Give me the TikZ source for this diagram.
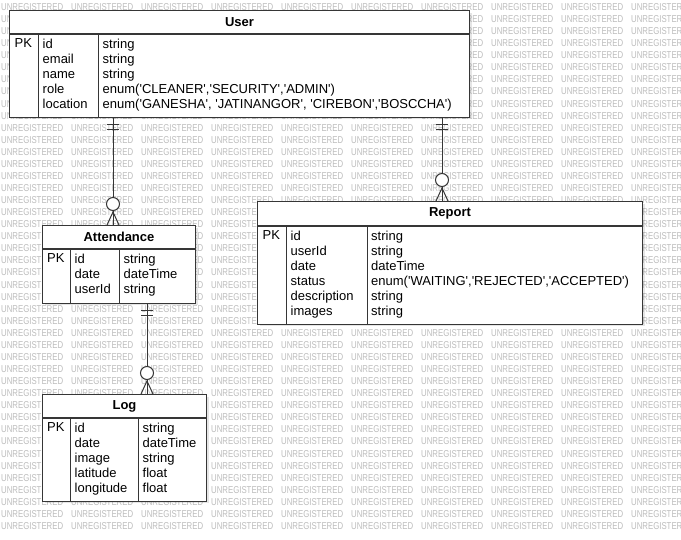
\documentclass[tikz,border=0pt]{standalone}
\usepackage{fontspec}
\setmainfont[Ligatures=TeXOff]{Liberation Sans}
\newfontfamily\wmfont[FakeStretch=0.78]{Liberation Sans}
\definecolor{edge}{HTML}{363636}

\tikzset{
  wm/.style={font=\wmfont\fontsize{10}{10}\selectfont, text=black!26, inner sep=0pt, anchor=west},
  hdr/.style={draw=edge, fill=white, line width=1pt, anchor=north west, inner sep=0pt,
    font=\fontsize{13}{15}\selectfont\bfseries},
  body/.style={draw=edge, fill=white, line width=1pt, anchor=north west, inner sep=0pt},
  cell/.style={align=left, anchor=north west, inner sep=0pt},
  rel/.style={draw=edge, line width=1pt},
  shade/.style={fill=black, opacity=0.1}
}

\begin{document}
\begin{tikzpicture}[x=1pt, y=-1pt, font=\fontsize{13}{15}\selectfont]
    \useasboundingbox[fill=white] (0,0) rectangle (681,540);

    % Watermark (words that the tables hide are left out)
    \foreach \r in {0,...,43}
      \foreach \c in {0,...,9} {
        \pgfmathsetmacro\wx{\c*70+1}
        \pgfmathsetmacro\wy{7+\r*12.07}
        \pgfmathtruncatemacro\hid{
          (\wx>=9 && \wx+63<=469 && \wy>=13 && \wy<=113) ||
          (\wx>=42 && \wx+63<=195 && \wy>=228 && \wy<=299) ||
          (\wx>=257 && \wx+63<=642 && \wy>=204 && \wy<=320) ||
          (\wx>=42 && \wx+63<=206 && \wy>=397 && \wy<=497)}
        \ifnum\hid=0
          \node[wm] (wm-\r-\c) at (\wx,\wy) {UNREGISTERED};
        \fi
      }

    % Shadows
    \fill[shade] (12,13) rectangle (472,119);
    \fill[shade] (45,228) rectangle (198,305);
    \fill[shade] (260,204) rectangle (645,326);
    \fill[shade] (45,397) rectangle (209,503);

    % User
    \node[hdr, minimum width=460pt, minimum height=23pt] (user) at (9,10) {User};
    \node[body, minimum width=460pt, minimum height=83pt] (user-b) at (user.south west) {};
    \draw[rel] (user-b.north -| 38,0) -- (user-b.south -| 38,0);
    \draw[rel] (user-b.north -| 98,0) -- (user-b.south -| 98,0);
    \node[cell] (user-pk) at (14.5,38.7) {PK};
    \node[cell] (user-fld) at (42.5,38.7) {id\\email\\name\\role\\location};
    \node[cell] (user-typ) at (102.5,38.7) {string\\string\\string\\enum('CLEANER','SECURITY','ADMIN')\\enum('GANESHA', 'JATINANGOR', 'CIREBON','BOSCCHA')};

    % Attendance
    \node[hdr, minimum width=153pt, minimum height=23pt] (att) at (42,225) {Attendance};
    \node[body, minimum width=153pt, minimum height=54pt] (att-b) at (att.south west) {};
    \draw[rel] (att-b.north -| 70,0) -- (att-b.south -| 70,0);
    \draw[rel] (att-b.north -| 119,0) -- (att-b.south -| 119,0);
    \node[cell] (att-pk) at (47,253.7) {PK};
    \node[cell] (att-fld) at (74.5,253.7) {id\\date\\userId};
    \node[cell] (att-typ) at (123.5,253.7) {string\\dateTime\\string};

    % Report
    \node[hdr, minimum width=385pt, minimum height=24pt] (rep) at (257,201) {Report};
    \node[body, minimum width=385pt, minimum height=98pt] (rep-b) at (rep.south west) {};
    \draw[rel] (rep-b.north -| 286,0) -- (rep-b.south -| 286,0);
    \draw[rel] (rep-b.north -| 367,0) -- (rep-b.south -| 367,0);
    \node[cell] (rep-pk) at (262.5,230.7) {PK};
    \node[cell] (rep-fld) at (290.5,230.7) {id\\userId\\date\\status\\description\\images};
    \node[cell] (rep-typ) at (371,230.7) {string\\string\\dateTime\\enum('WAITING','REJECTED','ACCEPTED')\\string\\string};

    % Log
    \node[hdr, minimum width=164pt, minimum height=23pt] (log) at (42,394) {Log};
    \node[body, minimum width=164pt, minimum height=83pt] (log-b) at (log.south west) {};
    \draw[rel] (log-b.north -| 70,0) -- (log-b.south -| 70,0);
    \draw[rel] (log-b.north -| 138,0) -- (log-b.south -| 138,0);
    \node[cell] (log-pk) at (47,422.7) {PK};
    \node[cell] (log-fld) at (74.5,422.7) {id\\date\\image\\latitude\\longitude};
    \node[cell] (log-typ) at (142.5,422.7) {string\\dateTime\\string\\float\\float};

    % Relations
    \coordinate (ua) at (user-b.south -| 113,0);
    \coordinate (au) at (att.north -| 113,0);
    \coordinate (ur) at (user-b.south -| 442,0);
    \coordinate (ru) at (rep.north -| 442,0);
    \coordinate (al) at (att-b.south -| 147,0);
    \coordinate (la) at (log.north -| 147,0);

    \draw[rel] (ua) -- (au);
    \draw[rel] (ur) -- (ru);
    \draw[rel] (al) -- (la);

    % One and only one
    \foreach \p in {ua,ur,al} {
      \draw[rel] (\p) ++(-6,7) -- ++(12,0);
      \draw[rel] (\p) ++(-6,12) -- ++(12,0);
    }

    % Zero or many
    \foreach \p in {au,ru,la} {
      \draw[rel] (\p) ++(-6,0) -- ++(6,-13) -- ++(6,13);
      \draw[rel, fill=white] (\p) ++(0,-21) circle[radius=6.5pt];
    }
\end{tikzpicture}
\end{document}
